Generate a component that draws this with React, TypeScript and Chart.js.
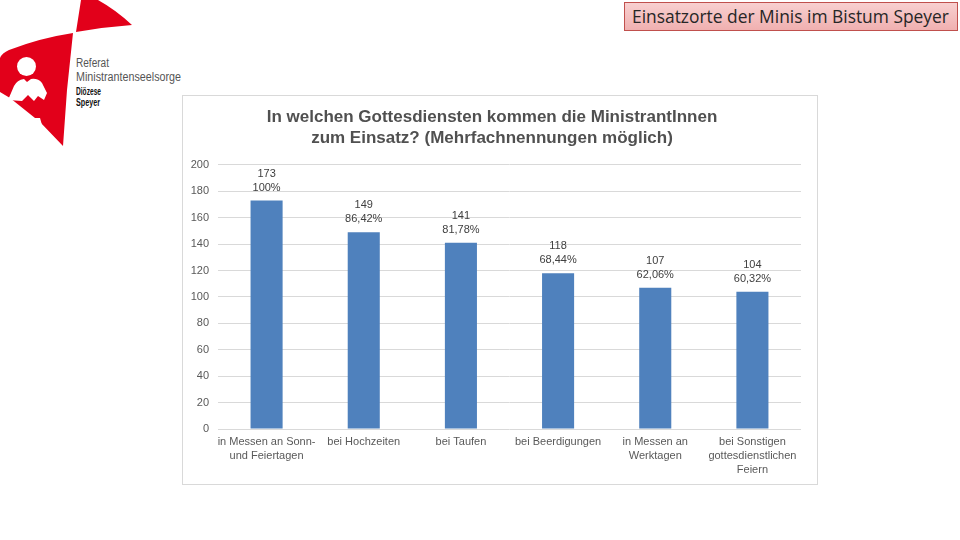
import React, { useEffect, useRef } from "react";
import { Chart, registerables } from "chart.js";

Chart.register(...registerables);

const categories: string[][] = [
  ["in Messen an Sonn-", "und Feiertagen"],
  ["bei Hochzeiten"],
  ["bei Taufen"],
  ["bei Beerdigungen"],
  ["in Messen an", "Werktagen"],
  ["bei Sonstigen", "gottesdienstlichen", "Feiern"],
];
const counts: number[] = [173, 149, 141, 118, 107, 104];
const percents: string[] = ["100%", "86,42%", "81,78%", "68,44%", "62,06%", "60,32%"];
const yTicks: number[] = [0, 20, 40, 60, 80, 100, 120, 140, 160, 180, 200];
const chartTitle: string[] = [
  "In welchen Gottesdiensten kommen die MinistrantInnen",
  "zum Einsatz? (Mehrfachnennungen möglich)",
];
const slideTitle = "Einsatzorte der Minis im Bistum Speyer";

const FONT = "'Liberation Sans', Arial, sans-serif";

const labelPlugin = {
  id: "valueLabels",
  afterDatasetsDraw(chart: any) {
    const ctx = chart.ctx;
    const meta = chart.getDatasetMeta(0);
    ctx.save();
    ctx.font = `11px ${FONT}`;
    ctx.fillStyle = "#404040";
    ctx.textAlign = "center";
    ctx.textBaseline = "middle";
    meta.data.forEach((bar: any, i: number) => {
      ctx.fillText(String(counts[i]), bar.x, bar.y - 27);
      ctx.fillText(percents[i], bar.x, bar.y - 13);
    });
    ctx.restore();
  },
};

function BarChart() {
  const ref = useRef<HTMLCanvasElement | null>(null);
  useEffect(() => {
    if (!ref.current) return;
    const chart = new Chart(ref.current, {
      type: "bar",
      data: {
        labels: categories,
        datasets: [
          {
            data: counts,
            backgroundColor: "#4f81bd",
            borderWidth: 0,
            categoryPercentage: 1,
            barPercentage: 0.33,
          },
        ],
      },
      options: {
        responsive: false,
        animation: false,
        layout: { padding: { left: 0, right: 16, top: 0, bottom: 0 } },
        plugins: {
          legend: { display: false },
          tooltip: { enabled: false },
          title: {
            display: true,
            text: chartTitle,
            color: "#505050",
            font: { family: FONT, size: 17, weight: "bold", lineHeight: 1.24 },
            padding: { top: 10.5, bottom: 16.3 },
          },
        },
        scales: {
          x: {
            grid: { display: false, drawTicks: false },
            border: { display: false },
            ticks: {
              color: "#595959",
              font: { family: FONT, size: 11, lineHeight: 1.27 },
              padding: 6,
              maxRotation: 0,
              autoSkip: false,
            },
            afterFit: (s: any) => {
              s.height = 55;
            },
          },
          y: {
            min: 0,
            max: 200,
            afterBuildTicks: (s: any) => {
              s.ticks = yTicks.map((v) => ({ value: v }));
            },
            grid: { color: "#d9d9d9", drawTicks: false, lineWidth: 1 },
            border: { display: false },
            ticks: {
              color: "#595959",
              font: { family: FONT, size: 11 },
              padding: 9,
            },
            afterFit: (s: any) => {
              s.width = 35;
            },
          },
        },
      },
      plugins: [labelPlugin],
    });
    return () => chart.destroy();
  }, []);
  return <canvas ref={ref} width={634} height={388} style={{ width: 634, height: 388, display: "block" }} />;
}

function Logo() {
  return (
    <svg width={190} height={150} style={{ position: "absolute", left: 0, top: 0 }}>
      <path d="M81,0 L98,0 Q116,10 132,25 Q104,27 76,32 Z" fill="#e2001a" />
      <path d="M0,58 Q2,53 9,50 Q40,38 73,33 L67,90 L63,146 L40,122 L10,98 L0,92 Z" fill="#e2001a" />
      <circle cx={26.5} cy={66.5} r={9.5} fill="#ffffff" />
      <path
        d="M8,100 L14,86 Q17,80 24,79 L27,82 L31,79 Q38,78 42,83 L47,93 L44,100 L38,96 L34,101 L28,95 L22,101 Z"
        fill="#ffffff"
      />
      <path d="M34,118 L40,118 L42,125 Z" fill="#ffffff" />
      <text x={76} y={67} fontFamily={FONT} fontSize={12.5} fill="#555" textLength={33} lengthAdjust="spacingAndGlyphs">
        Referat
      </text>
      <text x={76} y={81} fontFamily={FONT} fontSize={12.5} fill="#555" textLength={105} lengthAdjust="spacingAndGlyphs">
        Ministrantenseelsorge
      </text>
      <text x={76} y={94.5} fontFamily={FONT} fontSize={10} fontWeight="bold" fill="#111" textLength={25} lengthAdjust="spacingAndGlyphs">
        Diözese
      </text>
      <text x={76} y={106} fontFamily={FONT} fontSize={10} fontWeight="bold" fill="#111" textLength={24} lengthAdjust="spacingAndGlyphs">
        Speyer
      </text>
    </svg>
  );
}

export default function App() {
  return (
    <div
      style={{
        position: "absolute",
        left: 0,
        top: 0,
        width: 960,
        height: 540,
        background: "#ffffff",
        overflow: "hidden",
      }}
    >
      <Logo />
      <div
        style={{
          position: "absolute",
          left: 624,
          top: 2,
          width: 334,
          height: 29,
          boxSizing: "border-box",
          border: "1px solid #c0504d",
          background: "linear-gradient(#f8d0d0, #f0b0b0)",
          fontFamily: "'Open Sans', 'Liberation Sans', sans-serif",
          fontSize: 17.4,
          color: "#262626",
          lineHeight: "27px",
          paddingLeft: 7,
          whiteSpace: "nowrap",
        }}
      >
        {slideTitle}
      </div>
      <div
        style={{
          position: "absolute",
          left: 182,
          top: 95,
          width: 636,
          height: 390,
          boxSizing: "border-box",
          border: "1px solid #d9d9d9",
          background: "#ffffff",
        }}
      >
        <BarChart />
      </div>
    </div>
  );
}
